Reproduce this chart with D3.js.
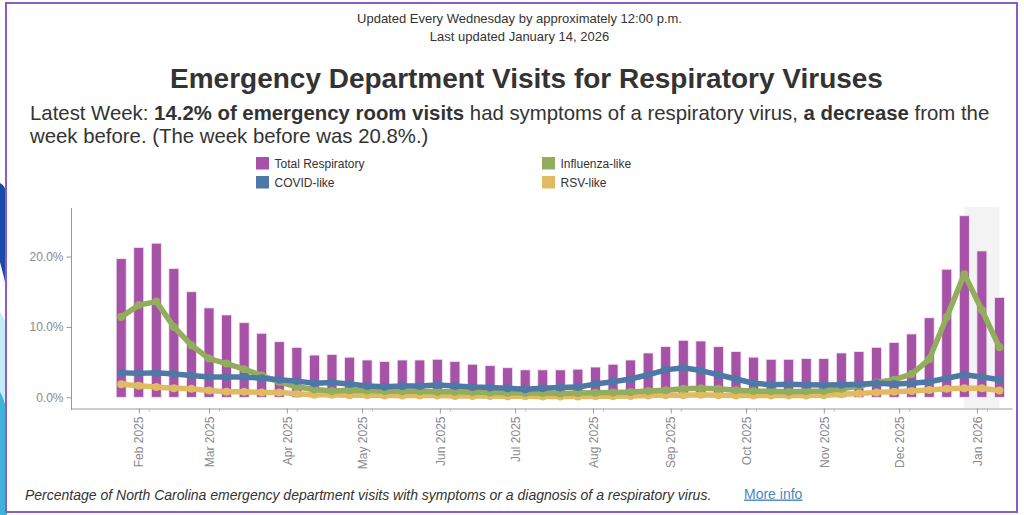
<!DOCTYPE html>
<html>
<head>
<meta charset="utf-8">
<script src="https://cdn.jsdelivr.net/npm/d3@7"></script>
<style>
  html, body { margin: 0; padding: 0; background: #fff; }
  svg { display: block; font-family: "Liberation Sans", Arial, sans-serif; }
</style>
</head>
<body>
<svg id="chart" width="1024" height="515"></svg>
<script>
// ---------------- DATA ----------------
const weeks = [
  "2025-01-25","2025-02-01","2025-02-08","2025-02-15","2025-02-22","2025-03-01","2025-03-08","2025-03-15",
  "2025-03-22","2025-03-29","2025-04-05","2025-04-12","2025-04-19","2025-04-26","2025-05-03","2025-05-10",
  "2025-05-17","2025-05-24","2025-05-31","2025-06-07","2025-06-14","2025-06-21","2025-06-28","2025-07-05",
  "2025-07-12","2025-07-19","2025-07-26","2025-08-02","2025-08-09","2025-08-16","2025-08-23","2025-08-30",
  "2025-09-06","2025-09-13","2025-09-20","2025-09-27","2025-10-04","2025-10-11","2025-10-18","2025-10-25",
  "2025-11-01","2025-11-08","2025-11-15","2025-11-22","2025-11-29","2025-12-06","2025-12-13","2025-12-20",
  "2025-12-27","2026-01-03","2026-01-10"
];
const totalRespiratory = [
  19.7, 21.3, 21.9, 18.3, 15.0, 12.7, 11.7, 10.6, 9.1, 7.9, 7.1, 6.0, 6.1, 5.7, 5.3, 5.1,
  5.3, 5.3, 5.4, 5.1, 4.7, 4.5, 4.2, 3.9, 3.9, 3.9, 4.0, 4.3, 4.7, 5.3, 6.3, 7.2,
  8.1, 8.0, 7.2, 6.5, 5.7, 5.4, 5.4, 5.5, 5.5, 6.3, 6.5, 7.1, 7.8, 9.0, 11.3, 18.2,
  25.8, 20.8, 14.2
];
const covidLike = [
  3.5, 3.4, 3.5, 3.3, 3.1, 2.9, 2.9, 2.9, 2.7, 2.5, 2.3, 2.0, 2.1, 1.9, 1.6, 1.5,
  1.6, 1.6, 1.75, 1.6, 1.45, 1.4, 1.3, 1.15, 1.3, 1.4, 1.45, 1.9, 2.2, 2.6, 3.2, 3.9,
  4.2, 3.8, 3.2, 2.6, 2.0, 1.8, 1.85, 1.8, 1.75, 1.8, 1.85, 2.0, 1.9, 2.0, 2.2, 2.7,
  3.2, 2.9, 2.5
];
const influenzaLike = [
  11.4, 13.1, 13.6, 10.0, 7.4, 5.5, 4.8, 4.0, 3.1, 2.2, 1.5, 1.1, 0.9, 1.0, 0.95, 0.9,
  0.85, 0.85, 0.8, 0.8, 0.75, 0.7, 0.65, 0.6, 0.6, 0.55, 0.6, 0.65, 0.7, 0.75, 0.9, 1.0,
  1.2, 1.3, 1.2, 1.0, 0.9, 0.85, 0.8, 0.85, 0.9, 1.2, 1.6, 2.1, 2.5, 3.3, 5.4, 11.4,
  17.5, 12.4, 7.1
];
const rsvLike = [
  1.85, 1.65, 1.45, 1.3, 1.2, 0.95, 0.8, 0.8, 0.7, 0.7, 0.5, 0.35, 0.35, 0.3, 0.3, 0.25,
  0.25, 0.25, 0.25, 0.2, 0.2, 0.2, 0.15, 0.15, 0.1, 0.1, 0.1, 0.15, 0.15, 0.2, 0.25, 0.3,
  0.3, 0.35, 0.3, 0.25, 0.25, 0.25, 0.25, 0.25, 0.3, 0.45, 0.55, 0.7, 0.8, 0.9, 1.05, 1.2,
  1.3, 1.3, 0.95
];
const yTicks = [0, 10, 20];
const monthTicks = ["2025-02-01","2025-03-01","2025-04-01","2025-05-01","2025-06-01","2025-07-01",
  "2025-08-01","2025-09-01","2025-10-01","2025-11-01","2025-12-01","2026-01-01"];
const highlightRange = ["2025-12-27", "2026-01-10"];
const legendItems = ["Total Respiratory", "COVID-like", "Influenza-like", "RSV-like"];

// ---------------- SETUP ----------------
const parse = d3.timeParse("%Y-%m-%d");
const svg = d3.select("#chart");
const colors = {
  "Total Respiratory": "#a653a7",
  "COVID-like": "#4e79a7",
  "Influenza-like": "#92ad5c",
  "RSV-like": "#e0bb62"
};

// decorative left edge
svg.append("path").attr("fill", "#1a4aa8")
  .attr("d", "M0,183 C4,185 7,190 7,200 L7,292 C5,280 2,270 0,262 Z");
svg.append("path").attr("fill", "#c3ecf5")
  .attr("d", "M0,312 C3,316 6,322 7,330 L7,400 L0,400 Z");
svg.append("path").attr("fill", "#3db3d8")
  .attr("d", "M0,392 C3,398 6,404 7,412 L7,515 L0,515 Z");

// frame
svg.append("rect").attr("x", 6).attr("y", 3).attr("width", 1011).attr("height", 509)
  .attr("fill", "#fff").attr("stroke", "#8d5bc9").attr("stroke-width", 2);

function fitText(sel, target) {
  const w = sel.node().getComputedTextLength();
  const fs = parseFloat(sel.attr("font-size"));
  sel.attr("font-size", (fs * target / w).toFixed(2));
}

// header
svg.append("text").attr("x", 519.5).attr("y", 22.5).attr("text-anchor", "middle")
  .attr("font-size", 13).attr("fill", "#333")
  .text("Updated Every Wednesday by approximately 12:00 p.m.");
svg.append("text").attr("x", 519.5).attr("y", 40.5).attr("text-anchor", "middle")
  .attr("font-size", 13).attr("fill", "#333")
  .text("Last updated January 14, 2026");
const title = svg.append("text").attr("x", 526.5).attr("y", 87.5).attr("text-anchor", "middle")
  .attr("font-size", 29).attr("font-weight", "bold").attr("fill", "#333")
  .text("Emergency Department Visits for Respiratory Viruses");
fitText(title, 713);

const sub1 = svg.append("text").attr("x", 30).attr("y", 120).attr("font-size", 19).attr("fill", "#333");
sub1.append("tspan").text("Latest Week: ");
sub1.append("tspan").attr("font-weight", "bold").text("14.2% of emergency room visits");
sub1.append("tspan").text(" had symptoms of a respiratory virus, ");
sub1.append("tspan").attr("font-weight", "bold").text("a decrease");
sub1.append("tspan").text(" from the");
fitText(sub1, 960);
svg.append("text").attr("x", 30).attr("y", 143).attr("font-size", sub1.attr("font-size")).attr("fill", "#333")
  .text("week before. (The week before was 20.8%.)");

// legend
const legendPos = [[256, 157], [256, 176], [542, 157], [542, 176]];
legendItems.forEach((name, i) => {
  const [lx, ly] = legendPos[i];
  svg.append("rect").attr("x", lx).attr("y", ly).attr("width", 13).attr("height", 12.5)
    .attr("fill", colors[name]);
  svg.append("text").attr("x", lx + 18.5).attr("y", ly + 10.5).attr("font-size", 12)
    .attr("fill", "#333").text(name);
});

// ---------------- SCALES ----------------
const x = d3.scaleTime()
  .domain([new Date(2025, 0, 5), new Date(2026, 0, 15)])
  .range([71, 1012]);
const y = d3.scaleLinear().domain([-1.52, 26.9]).range([408, 208]);

const data = weeks.map((w, i) => ({
  date: parse(w),
  total: totalRespiratory[i],
  covid: covidLike[i],
  flu: influenzaLike[i],
  rsv: rsvLike[i]
}));

// highlight band (preliminary weeks)
svg.append("rect")
  .attr("x", x(parse(highlightRange[0])))
  .attr("width", x(parse(highlightRange[1])) - x(parse(highlightRange[0])))
  .attr("y", 207).attr("height", 408 - 207)
  .attr("fill", "#f3f3f3");

// axes
const yAxis = svg.append("g").attr("transform", "translate(71.5,0)")
  .call(d3.axisLeft(y).tickValues(yTicks).tickSize(5).tickSizeOuter(0)
    .tickFormat(d => d3.format(".1f")(d) + "%"));
yAxis.select(".domain").attr("stroke", "#999").attr("d", "M0,208V410");
yAxis.selectAll(".tick line").attr("stroke", "#999");
yAxis.selectAll(".tick text").attr("font-size", 12).attr("fill", "#8a8a8a")
  .attr("font-family", "Liberation Sans, Arial, sans-serif").attr("x", -8);

const monthDates = monthTicks.map(parse);
const xAxis = svg.append("g").attr("transform", "translate(0,408.5)")
  .call(d3.axisBottom(x).tickValues(monthDates).tickSize(5).tickSizeOuter(0)
    .tickFormat(d3.timeFormat("%b %Y")));
xAxis.select(".domain").attr("stroke", "#999");
xAxis.selectAll(".tick line").attr("stroke", "#999");
xAxis.selectAll(".tick text")
  .attr("font-size", 12).attr("fill", "#8a8a8a")
  .attr("font-family", "Liberation Sans, Arial, sans-serif")
  .attr("text-anchor", "end")
  .attr("transform", "rotate(-90)")
  .attr("x", -8).attr("y", 0).attr("dy", "0.35em");

// minor ticks
const minorDates = monthDates.map(d => d3.timeDay.offset(d, 4));
svg.append("g").attr("transform", "translate(0,408.5)")
  .call(d3.axisBottom(x).tickValues(minorDates).tickSize(3).tickFormat(""))
  .call(g => g.select(".domain").remove())
  .selectAll("line").attr("stroke", "#bbb");

// ---------------- MARKS ----------------
const barW = 10;
svg.append("g").selectAll("rect").data(data).join("rect")
  .attr("x", d => x(d.date) - barW / 2)
  .attr("width", barW)
  .attr("y", d => y(d.total))
  .attr("height", d => y(0) - y(d.total))
  .attr("fill", colors["Total Respiratory"])
  .attr("stroke", "#f4e6f4").attr("stroke-width", 0.8);

const seriesOrder = [["rsv", "RSV-like"], ["flu", "Influenza-like"], ["covid", "COVID-like"]];
seriesOrder.forEach(([key, name]) => {
  const line = d3.line().x(d => x(d.date)).y(d => y(d[key]));
  const g = svg.append("g");
  g.append("path").datum(data).attr("d", line)
    .attr("fill", "none").attr("stroke", colors[name])
    .attr("stroke-width", 5.5).attr("stroke-linejoin", "round").attr("stroke-linecap", "round");
  g.selectAll("circle").data(data).join("circle")
    .attr("cx", d => x(d.date)).attr("cy", d => y(d[key]))
    .attr("r", 4).attr("fill", colors[name]);
});

// footer
const foot = svg.append("text").attr("x", 25).attr("y", 499.5).attr("font-size", 13)
  .attr("font-style", "italic").attr("fill", "#333")
  .text("Percentage of North Carolina emergency department visits with symptoms or a diagnosis of a respiratory virus.");
fitText(foot, 687);
svg.append("text").attr("x", 744).attr("y", 498.5).attr("font-size", 14)
  .attr("fill", "#4a86c5").attr("text-decoration", "underline").text("More info");
</script>
</body>
</html>
